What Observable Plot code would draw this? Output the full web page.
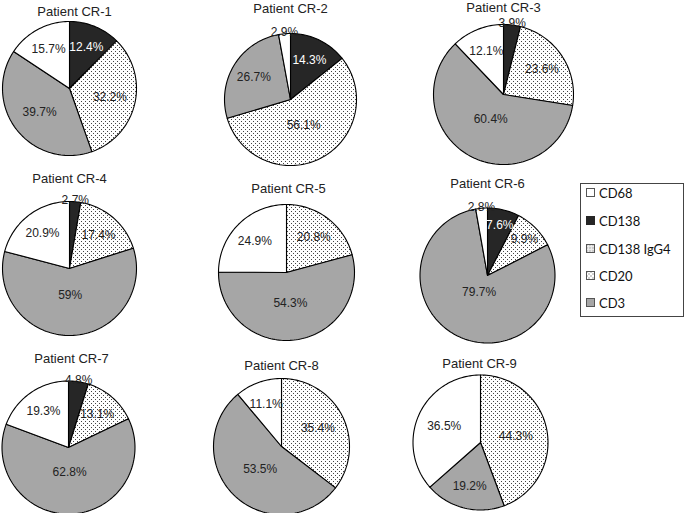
<!DOCTYPE html>
<html><head><meta charset="utf-8">
<script src="https://cdn.jsdelivr.net/npm/d3@7"></script>
<script src="https://cdn.jsdelivr.net/npm/@observablehq/plot@0.6"></script>
<style>
body{margin:0;background:#fff;}
#wrap{position:relative;width:685px;height:513px;overflow:hidden;}
#legend{position:absolute;left:580px;top:183px;width:104px;height:134px;border:1px solid #444;box-sizing:border-box;font-family:Lato,"Open Sans",sans-serif;font-size:13px;color:#111;background:#fff;}
.item{position:absolute;left:5px;height:14px;display:flex;align-items:center;white-space:nowrap;}
.item svg{margin-right:3px;}
</style></head><body><div id="wrap"></div>
<script>
// ---- data ----
const patients = ["Patient CR-1","Patient CR-2","Patient CR-3","Patient CR-4","Patient CR-5","Patient CR-6","Patient CR-7","Patient CR-8","Patient CR-9"];
const markers = ["CD68","CD138","CD138 IgG4","CD20","CD3"];
const cd68      = [15.7, 2.9, 12.1, 20.9, 24.9, 2.8, 19.3, 11.1, 36.5];
const cd138     = [12.4, 14.3, 3.9, 2.7, 0, 7.6, 4.8, 0, 0];
const cd138IgG4 = [0, 0, 0, 0, 0, 0, 0, 0, 0];
const cd20      = [32.2, 56.1, 23.6, 17.4, 20.8, 9.9, 13.1, 35.4, 44.3];
const cd3       = [39.7, 26.7, 60.4, 59, 54.3, 79.7, 62.8, 53.5, 19.2];

// ---- layout (pie centres, radii, title positions in pixels) ----
const layout = [
  {cx: 69,  cy: 88,  r: 67,   tx: 74,  ty: 11},
  {cx: 290, cy: 99,  r: 66,   tx: 290, ty: 8},
  {cx: 503, cy: 94,  r: 70,   tx: 503, ty: 7},
  {cx: 69,  cy: 268, r: 67,   tx: 69,  ty: 178},
  {cx: 286, cy: 272, r: 68,   tx: 288, ty: 188},
  {cx: 487, cy: 275, r: 67.5, tx: 487, ty: 183},
  {cx: 68,  cy: 447, r: 66.5, tx: 71,  ty: 358},
  {cx: 281, cy: 446, r: 68,   tx: 281, ty: 365},
  {cx: 480, cy: 442, r: 67.5, tx: 479, ty: 363}
];

const series = {"CD68": cd68, "CD138": cd138, "CD138 IgG4": cd138IgG4, "CD20": cd20, "CD3": cd3};
const sliceOrder = ["CD138","CD138 IgG4","CD20","CD3","CD68"]; // clockwise from 12 o'clock
const fills = {"CD68":"#ffffff","CD138":"#262626","CD138 IgG4":"url(#dotsSparse)","CD20":"url(#dots)","CD3":"#a6a6a6"};

// ---- build slice polygons and labels ----
const slicePts = [];
const labels = [];
function labelFrac(v){
  if (v < 5) return 1.02;
  if (v < 10) return 0.77;
  const a = Math.PI * v / 100;
  const c = 2 * Math.sin(a) / (3 * a);
  return Math.max(0.28, Math.min(0.66, c + 0.06));
}
patients.forEach((p, i) => {
  const {cx, cy, r} = layout[i];
  let cum = 0;
  sliceOrder.forEach(m => {
    const v = series[m][i];
    if (!(v > 0)) return;
    const a0 = cum / 100 * 2 * Math.PI;
    const a1 = (cum + v) / 100 * 2 * Math.PI;
    const id = p + "|" + m;
    slicePts.push({id, marker: m, x: cx, y: cy});
    const n = Math.max(2, Math.ceil(v * 2));
    for (let k = 0; k <= n; k++) {
      const a = a0 + (a1 - a0) * k / n;
      slicePts.push({id, marker: m, x: cx + r * Math.sin(a), y: cy - r * Math.cos(a)});
    }
    slicePts.push({id, marker: m, x: cx, y: cy});
    const am = (a0 + a1) / 2;
    const f = labelFrac(v);
    labels.push({
      x: cx + f * r * Math.sin(am), y: cy - f * r * Math.cos(am),
      text: v + "%", light: m === "CD138" && v >= 5
    });
    cum += v;
  });
});
const titles = patients.map((p, i) => ({text: p, x: layout[i].tx, y: layout[i].ty}));
const ff = "'Liberation Sans', Arial, sans-serif";

const chart = Plot.plot({
  width: 685, height: 513,
  margin: 0,
  x: {domain: [0, 685], range: [0, 685], axis: null},
  y: {domain: [0, 513], range: [0, 513], axis: null},
  color: {type: "ordinal", domain: markers, range: markers.map(m => fills[m])},
  style: {background: "#fff"},
  marks: [
    Plot.line(slicePts, {x: "x", y: "y", z: "id", fill: "marker", stroke: "#000", strokeWidth: 1.1, strokeLinejoin: "round", curve: "linear"}),
    Plot.text(labels.filter(d => !d.light), {x: "x", y: "y", text: "text", fill: "#222", fontSize: 12, fontWeight: 400, fontFamily: ff}),
    Plot.text(labels.filter(d => d.light), {x: "x", y: "y", text: "text", fill: "#fff", fontSize: 12, fontWeight: 400, fontFamily: ff}),
    Plot.text(titles, {x: "x", y: "y", text: "text", fill: "#222", fontSize: 13, fontWeight: 400, fontFamily: ff})
  ]
});

// patterns (offset by half a pixel to cancel Plot's 0.5px path translation)
const defs = d3.select(chart).insert("defs", ":first-child");
const pd = defs.append("pattern").attr("id", "dots").attr("x", 0.5).attr("y", 0.5).attr("width", 4).attr("height", 4).attr("patternUnits", "userSpaceOnUse");
pd.append("rect").attr("width", 4).attr("height", 4).attr("fill", "#fff");
pd.append("rect").attr("x", 0).attr("y", 0).attr("width", 1).attr("height", 1).attr("fill", "#444");
pd.append("rect").attr("x", 2).attr("y", 2).attr("width", 1).attr("height", 1).attr("fill", "#444");
const ps = defs.append("pattern").attr("id", "dotsSparse").attr("x", 0.5).attr("y", 0.5).attr("width", 3).attr("height", 3).attr("patternUnits", "userSpaceOnUse");
ps.append("rect").attr("width", 3).attr("height", 3).attr("fill", "#e6e6e6");
ps.append("rect").attr("x", 1).attr("y", 1).attr("width", 1).attr("height", 1).attr("fill", "#fff");
ps.append("rect").attr("x", 0).attr("y", 0).attr("width", 1).attr("height", 1).attr("fill", "#777");
defs.selectAll("rect").attr("shape-rendering", "crispEdges");

const wrap = document.getElementById("wrap");
wrap.appendChild(chart);

// legend
const legend = document.createElement("div");
legend.id = "legend";
const itemTops = [2, 30, 58, 85, 112];
markers.forEach((m, i) => {
  const it = document.createElement("div");
  it.className = "item";
  it.style.top = itemTops[i] + "px";
  const isDark = m === "CD138";
  it.innerHTML = `<svg width="10" height="10"><rect x="0.5" y="0.5" width="8" height="8" fill="${fills[m]}" stroke="${isDark ? "#262626" : "#555"}" stroke-width="1"/></svg><span>${m}</span>`;
  legend.appendChild(it);
});
wrap.appendChild(legend);
</script>
</body></html>
